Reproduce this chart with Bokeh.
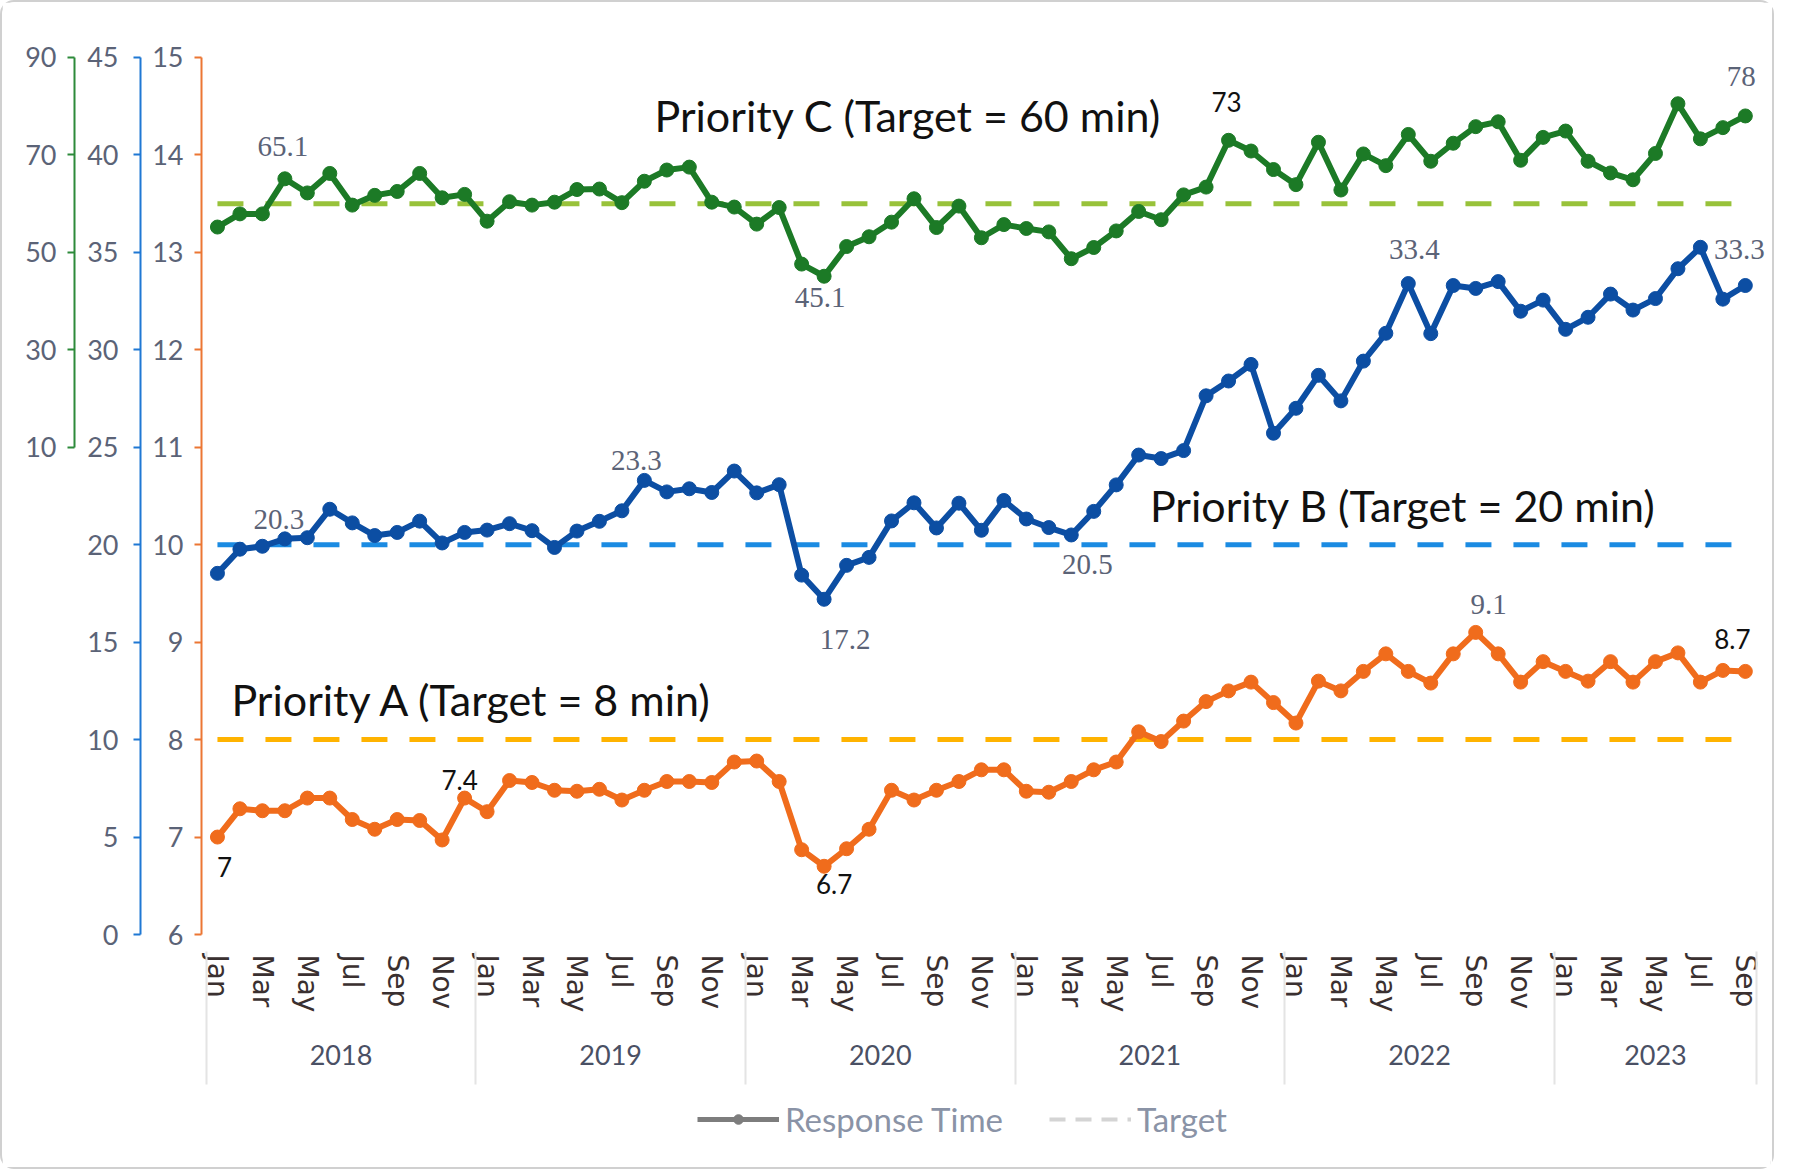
from bokeh.plotting import figure
from bokeh.layouts import column
from bokeh.models import (Range1d, LinearAxis, FixedTicker, Legend, LegendItem,
                          Label, LabelSet, ColumnDataSource)
from bokeh.core.properties import value
from bokeh.embed import file_html
from bokeh.resources import INLINE

# ---------------- data ----------------
years = ["2018", "2019", "2020", "2021", "2022", "2023"]
month_names = ["Jan", "Feb", "Mar", "Apr", "May", "Jun",
               "Jul", "Aug", "Sep", "Oct", "Nov", "Dec"]
months_in_last_year = 9

# Priority A response time (min), Jan 2018 - Sep 2023
priority_a = [7.0, 7.29, 7.27, 7.27, 7.4, 7.4, 7.18, 7.08, 7.18, 7.17, 6.97, 7.4,
              7.26, 7.58, 7.56, 7.48, 7.47, 7.49, 7.38, 7.48, 7.57, 7.57, 7.56, 7.77,
              7.78, 7.57, 6.87, 6.7, 6.88, 7.08, 7.48, 7.38, 7.48, 7.57, 7.69, 7.69,
              7.47, 7.46, 7.57, 7.69, 7.77, 8.08, 7.98, 8.19, 8.39, 8.5, 8.59, 8.38,
              8.17, 8.6, 8.5, 8.7, 8.88, 8.7, 8.58, 8.88, 9.1, 8.88, 8.59, 8.8,
              8.7, 8.6, 8.8, 8.59, 8.8, 8.89, 8.59, 8.71, 8.7]
# Priority B response time (min)
priority_b = [18.53, 19.77, 19.92, 20.3, 20.36, 21.82, 21.12, 20.47, 20.63, 21.21, 20.09, 20.63,
              20.75, 21.08, 20.72, 19.86, 20.7, 21.2, 21.74, 23.3, 22.71, 22.87, 22.68, 23.78,
              22.66, 23.08, 18.44, 17.2, 18.94, 19.35, 21.22, 22.15, 20.86, 22.13, 20.74, 22.27,
              21.32, 20.88, 20.5, 21.71, 23.07, 24.6, 24.42, 24.83, 27.64, 28.4, 29.25, 25.72,
              27.0, 28.69, 27.38, 29.42, 30.85, 33.4, 30.83, 33.3, 33.15, 33.5, 31.98, 32.55,
              31.05, 31.67, 32.86, 32.04, 32.63, 34.16, 35.26, 32.6, 33.3]
# Priority C response time (min)
priority_c = [55.2, 57.9, 57.9, 65.1, 62.2, 66.2, 59.7, 61.7, 62.5, 66.2, 61.2, 61.9,
              56.4, 60.4, 59.7, 60.3, 62.9, 63.0, 60.2, 64.6, 66.9, 67.5, 60.3, 59.3,
              55.8, 59.2, 47.6, 45.1, 51.2, 53.2, 56.2, 61.0, 55.1, 59.5, 53.0, 55.7,
              54.9, 54.2, 48.7, 51.0, 54.4, 58.4, 56.7, 61.8, 63.4, 73.0, 70.8, 67.0,
              63.9, 72.6, 62.8, 70.2, 67.8, 74.2, 68.7, 72.4, 75.8, 76.8, 68.9, 73.6,
              74.9, 68.7, 66.3, 64.9, 70.3, 80.5, 73.3, 75.6, 78.0]

target_a = 8
target_b = 20
target_c = 60

axis_a_ticks = [6, 7, 8, 9, 10, 11, 12, 13, 14, 15]
axis_b_ticks = [0, 5, 10, 15, 20, 25, 30, 35, 40, 45]
axis_c_ticks = [10, 30, 50, 70, 90]

# indexes of the points that carry a value label
labelled_a = [0, 11, 27, 56, 68]
labelled_b = [3, 19, 27, 38, 53, 68]
labelled_c = [3, 27, 45, 68]

# ---------------- derived categories ----------------
periods = []
for yr in years:
    n = months_in_last_year if yr == years[-1] else 12
    for m in month_names[:n]:
        periods.append((yr, m))
xs = list(range(len(periods)))

year_centers, year_bounds = [], []
for yr in years:
    idx = [i for i, (y, _) in enumerate(periods) if y == yr]
    year_centers.append((idx[0] + idx[-1]) / 2)
    year_bounds.append(idx[0] - 0.5)
year_bounds.append(xs[-1] + 0.5)

# ---------------- styles ----------------
GREEN = "#1c7a26"
BLUE = "#0c4ea3"
ORANGE = "#f06c1c"
T_GREEN = "#98c23a"
T_BLUE = "#1b8be2"
T_ORANGE = "#ffb300"
TICK_TXT = "#5b6377"
LABEL_GRAY = "#5b6377"

p = figure(frame_width=1569, frame_height=916, output_backend="svg", toolbar_location=None,
           x_range=Range1d(-0.71, 69.12), y_range=Range1d(6, 15.4),
           min_border_left=199, min_border_right=2, min_border_top=16,
           min_border_bottom=153)
p.extra_y_ranges = {"blue": Range1d(0, 47), "green": Range1d(-90, 98)}
p.grid.visible = False
p.outline_line_color = None


def style_y(ax, color, standoff):
    ax.axis_line_color = color
    ax.axis_line_width = 2
    ax.major_tick_line_color = color
    ax.major_tick_line_width = 2
    ax.major_tick_out = 7
    ax.major_tick_in = 0
    ax.minor_tick_line_color = None
    ax.major_label_standoff = standoff
    ax.major_label_text_font = "Lato"
    ax.major_label_text_font_size = "27px"
    ax.major_label_text_color = TICK_TXT


ya = p.yaxis[0]
ya.ticker = FixedTicker(ticks=axis_a_ticks)
ya.bounds = (6, 15)
style_y(ya, "#ec7633", 11)
ya.axis_label = " "
ya.axis_label_text_font_size = "6px"
ya.axis_label_standoff = 0

yb = LinearAxis(y_range_name="blue", ticker=FixedTicker(ticks=axis_b_ticks), bounds=(0, 45))
style_y(yb, "#1f78d4", 15)
yb.axis_label = " "
yb.axis_label_text_font_size = "7px"
yb.axis_label_standoff = 0
p.add_layout(yb, "left")

yc = LinearAxis(y_range_name="green", ticker=FixedTicker(ticks=axis_c_ticks),
                bounds=(10, 90))
style_y(yc, "#2d8a3a", 11)
p.add_layout(yc, "left")

xa = p.xaxis[0]
xa.ticker = FixedTicker(ticks=xs[::2])
xa.major_label_overrides = {i: periods[i][1] for i in xs[::2]}
xa.major_label_orientation = "vertical"
xa.axis_line_color = None
xa.major_tick_line_color = None
xa.major_tick_out = 0
xa.major_tick_in = 0
xa.minor_tick_line_color = None
xa.major_label_standoff = 20
xa.major_label_text_font = "DejaVu Sans"
xa.major_label_text_font_size = "28px"
xa.major_label_text_color = "#3a3030"

xy = LinearAxis(ticker=FixedTicker(ticks=year_centers, minor_ticks=year_bounds))
xy.major_label_overrides = {c: y for c, y in zip(year_centers, years)}
xy.axis_line_color = None
xy.major_tick_line_color = None
xy.major_tick_out = 0
xy.major_tick_in = 0
xy.minor_tick_line_color = "#e4e4e4"
xy.minor_tick_line_width = 2
xy.minor_tick_in = 64
xy.minor_tick_out = 69
xy.major_label_standoff = -40
xy.major_label_text_font = "Lato"
xy.major_label_text_font_size = "27px"
xy.major_label_text_color = "#4a5064"
p.add_layout(xy, "below")

# ---------------- targets ----------------
span_x = [xs[0], xs[-1]]
p.line(span_x, [target_c, target_c], y_range_name="green", line_color=T_GREEN,
       line_width=5, line_dash="26 22")
p.line(span_x, [target_b, target_b], y_range_name="blue", line_color=T_BLUE,
       line_width=5, line_dash="26 22")
p.line(span_x, [target_a, target_a], line_color=T_ORANGE,
       line_width=5, line_dash="26 22")

# ---------------- series ----------------
for vals, rng, col in [(priority_c, "green", GREEN), (priority_b, "blue", BLUE),
                       (priority_a, "default", ORANGE)]:
    p.line(xs, vals, y_range_name=rng, line_color=col, line_width=6)
    p.scatter(xs, vals, y_range_name=rng, size=14, color=col)

# ---------------- value labels ----------------
label_specs = [
    (priority_c, labelled_c, "green",
     [LABEL_GRAY, LABEL_GRAY, "#111111", LABEL_GRAY],
     ["serif", "serif", "sans", "serif"],
     [-2, -4, -2, -4], [32, -21, 38, 39]),
    (priority_b, labelled_b, "blue",
     [LABEL_GRAY] * 6, ["serif"] * 6,
     [-6, -8, 21, 16, 6, -6], [19, 20, -40, -30, 34, 36]),
    (priority_a, labelled_a, "default",
     ["#111111", "#111111", "#111111", LABEL_GRAY, "#111111"],
     ["sans", "sans", "sans", "serif", "sans"],
     [7, -5, 10, 13, -13], [-30, 18, -18, 28, 32]),
]
for vals, idxs, rng, cols, fonts, dxs, dys in label_specs:
    for kind, fam, size in [("serif", "Liberation Serif", "29px"), ("sans", "Lato", "26px")]:
        sel = [k for k, f in enumerate(fonts) if f == kind]
        if not sel:
            continue
        src = ColumnDataSource(dict(
            x=[idxs[k] for k in sel],
            y=[vals[idxs[k]] for k in sel],
            text=[f"{vals[idxs[k]]:g}" for k in sel],
            color=[cols[k] for k in sel],
            dx=[dxs[k] for k in sel],
            dy=[dys[k] for k in sel],
        ))
        ls = LabelSet(x="x", y="y", text="text", source=src, y_range_name=rng,
                      x_offset="dx", y_offset="dy", text_color="color",
                      text_font=value(fam), text_font_size=size,
                      text_align="center", text_baseline="middle")
        p.add_layout(ls)

# ---------------- titles ----------------
for txt, tx, ty in [("Priority C (Target = 60 min)", 19.45, 14.40),
                    ("Priority B (Target = 20 min)", 41.5, 10.40),
                    ("Priority A (Target = 8 min)", 0.62, 8.41)]:
    p.add_layout(Label(x=tx, y=ty, text=txt, text_font="Lato", text_font_size="43px",
                       text_color="#111111", text_baseline="middle", text_align="left"))

# ---------------- legend (own strip below the chart) ----------------
lg = figure(width=1770, height=80, output_backend="svg", toolbar_location=None,
            x_range=Range1d(0, 1), y_range=Range1d(0, 1), min_border=0,
            x_axis_location=None, y_axis_location=None)
lg.grid.visible = False
lg.outline_line_color = None
nan = float("nan")
r_resp = lg.line([0], [nan], line_color="#7d7d7d", line_width=5)
r_resp_m = lg.scatter([0], [nan], marker="circle", size=12, color="#7d7d7d")
r_tgt = lg.line([0], [nan], line_color="#d4d4d4", line_width=4, line_dash="16 10")
legend = Legend(items=[LegendItem(label="Response Time", renderers=[r_resp, r_resp_m]),
                       LegendItem(label="Target", renderers=[r_tgt])],
                orientation="horizontal", location=(496, 28),
                label_text_font="Lato", label_text_font_size="33px",
                label_text_color="#8a93a6", glyph_width=82, glyph_height=24,
                label_standoff=6, spacing=46, border_line_color=None,
                background_fill_alpha=0, margin=0, padding=6)
lg.add_layout(legend)

layout = column(p, lg, spacing=0,
                styles={"border": "2px solid #d0d0d0", "border-radius": "14px"})

open("out.html", "w").write(file_html(layout, INLINE))
